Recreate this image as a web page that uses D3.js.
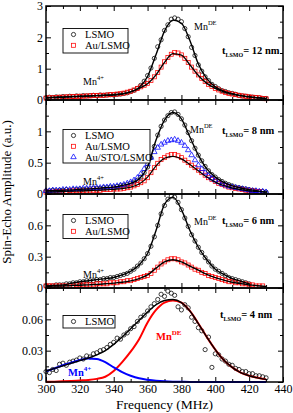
<!DOCTYPE html>
<html><head><meta charset="utf-8">
<script src="https://cdn.jsdelivr.net/npm/d3@7"></script>
<style>
body{margin:0;background:#fff;}
svg{display:block;font-family:"Liberation Serif","Times New Roman",serif;}
</style>
</head><body>
<svg id="c" width="293" height="413"></svg>
<script>
// ---------- DATA ----------
const freq = [300,302,304,306,308,310,312,314,316,318,320,
  322,324,326,328,330,332,334,336,338,340,342,
  344,346,348,350,352,354,356,358,360,362,364,
  366,368,370,372,374,376,378,380,382,384,386,
  388,390,392,394,396,398,400,402,404,406,408,
  410,412,414,416,418,420,422,424,426,428,430];
const fitFreq = [300,305,310,315,320,325,330,335,340,345,350,355,360,365,370,375,380,385,390,395,400,405,410,415,420,425,430];

const xTicks = [300,320,340,360,380,400,420,440];
const xMinorTicks = [310,330,350,370,390,410,430];

// panel 1 : t = 12 nm
const p1LSMO = [0.07,0.09,0.08,0.10,0.09,0.11,0.10,0.12,0.11,0.13,0.12,
  0.14,0.13,0.14,0.15,0.14,0.16,0.15,0.16,0.17,0.16,0.18,
  0.19,0.21,0.23,0.27,0.31,0.37,0.47,0.60,0.78,1.02,1.33,
  1.70,1.92,2.22,2.40,2.58,2.62,2.58,2.50,2.28,2.02,1.68,
  1.42,1.12,0.92,0.74,0.62,0.50,0.43,0.36,0.30,0.27,0.23,
  0.21,0.18,0.15,0.13,0.12,0.10,0.09,0.08,0.07,0.05,0.05];
const p1Au = [0.06,0.07,0.07,0.08,0.09,0.09,0.10,0.10,0.11,0.11,0.12,
  0.12,0.13,0.13,0.14,0.14,0.15,0.15,0.16,0.17,0.18,0.19,
  0.20,0.22,0.25,0.28,0.32,0.37,0.42,0.47,0.53,0.62,0.74,
  0.88,1.05,1.22,1.36,1.46,1.52,1.50,1.44,1.33,1.20,1.05,
  0.92,0.80,0.69,0.59,0.50,0.43,0.37,0.32,0.28,0.24,0.21,
  0.19,0.17,0.15,0.13,0.12,0.10,0.09,0.08,0.07,0.05,0.04];
const p1FitLSMO = [0.08,0.09,0.10,0.11,0.12,0.13,0.14,0.15,0.16,0.19,0.26,0.40,0.75,1.45,2.20,2.55,2.45,1.90,1.15,0.68,0.42,0.28,0.20,0.14,0.10,0.07,0.05];
const p1FitAu = [0.06,0.075,0.09,0.10,0.115,0.125,0.14,0.15,0.17,0.20,0.26,0.37,0.52,0.80,1.20,1.48,1.43,1.12,0.78,0.53,0.37,0.26,0.19,0.14,0.10,0.07,0.04];

// panel 2 : t = 8 nm
const p2LSMO = [0.05,0.05,0.06,0.05,0.06,0.06,0.07,0.06,0.07,0.07,0.08,
  0.07,0.08,0.08,0.09,0.09,0.09,0.10,0.10,0.11,0.11,0.12,
  0.13,0.14,0.15,0.17,0.19,0.22,0.27,0.34,0.43,0.58,0.76,
  0.94,1.08,1.18,1.25,1.30,1.31,1.27,1.20,1.10,0.98,0.85,
  0.73,0.62,0.53,0.44,0.37,0.31,0.27,0.23,0.20,0.17,0.15,
  0.13,0.11,0.10,0.09,0.08,0.07,0.06,0.05,0.04,0.04,0.03];
const p2Au = [0.03,0.03,0.03,0.04,0.04,0.04,0.04,0.05,0.05,0.05,0.05,
  0.05,0.05,0.06,0.06,0.06,0.06,0.07,0.07,0.07,0.08,0.08,
  0.08,0.09,0.10,0.11,0.13,0.15,0.18,0.21,0.26,0.34,0.42,
  0.49,0.55,0.58,0.61,0.63,0.63,0.61,0.58,0.54,0.50,0.46,
  0.42,0.38,0.34,0.30,0.26,0.23,0.20,0.17,0.15,0.13,0.11,
  0.10,0.09,0.08,0.07,0.06,0.05,0.05,0.04,0.04,null,null];
const p2STO = [0.05,0.05,0.06,0.06,0.06,0.07,0.07,0.07,0.08,0.08,0.08,
  0.09,0.09,0.09,0.10,0.10,0.10,0.11,0.11,0.12,0.12,0.13,
  0.14,0.15,0.17,0.19,0.22,0.26,0.32,0.40,0.48,0.58,0.67,
  0.74,0.79,0.82,0.85,0.86,0.87,0.85,0.82,0.77,0.70,0.62,
  0.54,0.46,0.40,0.34,0.29,0.25,0.22,0.19,0.16,0.14,0.12,
  0.11,0.10,0.09,0.08,0.07,0.06,0.05,0.05,0.04,0.04,0.03];
const p2FitLSMO = [0.05,0.055,0.06,0.065,0.075,0.08,0.09,0.10,0.11,0.135,0.17,0.24,0.43,0.86,1.18,1.30,1.20,0.91,0.62,0.40,0.27,0.185,0.13,0.095,0.07,0.05,0.03];
const p2FitAu = [0.03,0.035,0.04,0.045,0.05,0.055,0.06,0.065,0.075,0.085,0.11,0.16,0.27,0.45,0.57,0.60,0.56,0.47,0.37,0.27,0.19,0.135,0.095,0.07,0.05,0.04,0.03];

// panel 3 : t = 6 nm
const p3LSMO = [0.02,0.02,0.02,0.03,0.03,0.03,0.04,0.04,0.05,0.05,0.06,
  0.06,0.07,0.07,0.07,0.08,0.08,0.09,0.09,0.10,0.10,0.11,
  0.12,0.13,0.14,0.16,0.18,0.21,0.24,0.28,0.33,0.40,0.49,
  0.60,0.71,0.79,0.85,0.88,0.87,0.82,0.75,0.67,0.59,0.51,
  0.45,0.39,0.34,0.29,0.25,0.21,0.18,0.16,0.14,0.12,0.10,
  0.09,0.08,0.07,0.06,0.05,0.04,null,null,null,null,null];
const p3Au = [0.02,0.02,0.02,0.02,0.02,0.02,0.02,0.02,0.02,0.03,0.03,
  0.03,0.03,0.03,0.03,0.04,0.04,0.04,0.04,0.05,0.05,0.05,
  0.06,0.06,0.07,0.07,0.08,0.09,0.10,0.11,0.12,0.14,0.17,
  0.20,0.23,0.25,0.27,0.28,0.28,0.27,0.25,0.24,0.22,0.20,
  0.18,0.17,0.15,0.14,0.12,0.11,0.10,0.09,0.08,0.07,0.06,
  0.06,0.05,0.05,0.04,0.04,0.03,0.03,0.02,0.02,0.02,null];
const p3FitLSMO = [0.02,0.025,0.03,0.045,0.06,0.07,0.08,0.09,0.10,0.125,0.16,0.22,0.33,0.55,0.80,0.87,0.75,0.55,0.39,0.27,0.18,0.13,0.09,0.065,0.04,null,null];
const p3FitAu = [0.015,0.018,0.02,0.023,0.027,0.03,0.035,0.04,0.047,0.055,0.068,0.09,0.125,0.19,0.25,0.27,0.25,0.21,0.17,0.13,0.10,0.075,0.055,0.042,0.03,0.022,0.015];

// panel 4 : t = 4 nm
const p4LSMO = [0.010,0.009,0.012,0.011,0.017,0.018,0.016,0.019,0.020,0.021,0.023,
  0.022,0.025,0.024,0.027,0.028,0.030,0.031,0.033,0.036,0.038,0.042,
  0.041,0.045,0.047,0.051,0.053,0.058,0.062,0.064,0.068,0.072,0.075,
  0.079,0.084,0.082,0.087,0.085,0.083,0.072,0.069,0.074,0.071,0.062,
  0.058,0.052,0.049,0.031,0.043,0.014,0.027,0.026,0.022,0.020,0.017,
  0.016,0.013,0.012,0.010,0.010,0.008,0.008,0.006,0.006,0.005,0.004];
const p4FitTotal = [0.0105,0.013,0.0155,0.018,0.0205,0.023,0.026,0.030,0.036,0.043,0.051,0.059,0.067,0.074,0.078,0.079,0.076,0.068,0.056,0.043,0.031,0.021,0.014,0.009,0.006,0.004,0.0025];
const p4FitDE = [0.0002,0.0003,0.0006,0.001,0.0015,0.002,0.003,0.005,0.0105,0.019,0.029,0.041,0.057,0.069,0.076,0.078,0.076,0.068,0.056,0.043,0.031,0.021,0.014,0.009,0.006,0.004,0.0025];
const p4Fit4 = [0.0103,0.013,0.016,0.0185,0.021,0.0225,0.022,0.019,0.014,0.0095,0.006,0.0035,0.0022,0.0012,0.0006,0.0003,0.0002,0.0001,0.0001,0.0001,0.0001,0.0001,0.0001,0.0001,0.0001,0.0001,0.0001];

const yTicks1 = [0,1,2,3],          yMinor1 = [0.5,1.5,2.5],       yLabels1 = ["0","1","2","3"];
const yTicks2 = [0,0.5,1,1.5],      yMinor2 = [0.25,0.75,1.25],    yLabels2 = ["0","0.5","1",""];
const yTicks3 = [0,0.3,0.6,0.9],    yMinor3 = [0.15,0.45,0.75],    yLabels3 = ["0","0.3","0.6",""];
const yTicks4 = [0,0.03,0.06,0.09], yMinor4 = [0.015,0.045,0.075], yLabels4 = ["0","0.03","0.06",""];
const yMax = [3, 1.5, 0.9, 0.09];
const thickness = ["12", "8", "6", "4"];

// ---------- LAYOUT ----------
const svg = d3.select("#c");
const X0 = 46, X1 = 283;
const panelTops = [6, 100, 194, 288], panelH = 94;
const x = d3.scaleLinear().domain([300, 440]).range([X0, X1]);

const RED = "#ff0000", BLUE = "#0000ff";

function marker(g, kind, cx, cy, color) {
  if (kind === "circle") {
    g.append("circle").attr("cx", cx).attr("cy", cy).attr("r", 2.1)
      .attr("fill", "none").attr("stroke", color).attr("stroke-width", 0.75);
  } else if (kind === "square") {
    g.append("rect").attr("x", cx - 2).attr("y", cy - 2).attr("width", 4).attr("height", 4)
      .attr("fill", "none").attr("stroke", color).attr("stroke-width", 0.75);
  } else {
    g.append("path").attr("d", d3.symbol(d3.symbolTriangle, 13)())
      .attr("transform", `translate(${cx},${cy})`)
      .attr("fill", "none").attr("stroke", color).attr("stroke-width", 0.75);
  }
}

const panels = [
  { series: [{v: p1LSMO, k: "circle", c: "#000"}, {v: p1Au, k: "square", c: RED}],
    fits: [{v: p1FitAu, c: "#000", w: 1.4}, {v: p1FitLSMO, c: "#000", w: 1.4}],
    ticks: yTicks1, minor: yMinor1, labels: yLabels1,
    legend: [["circle", "#000", "LSMO"], ["square", RED, "Au/LSMO"]] },
  { series: [{v: p2LSMO, k: "circle", c: "#000"}, {v: p2Au, k: "square", c: RED}, {v: p2STO, k: "tri", c: BLUE}],
    fits: [{v: p2FitAu, c: "#000", w: 1.2}, {v: p2FitLSMO, c: "#000", w: 1.4}],
    ticks: yTicks2, minor: yMinor2, labels: yLabels2,
    legend: [["circle", "#000", "LSMO"], ["square", RED, "Au/LSMO"], ["tri", BLUE, "Au/STO/LSMO"]] },
  { series: [{v: p3LSMO, k: "circle", c: "#000"}, {v: p3Au, k: "square", c: RED}],
    fits: [{v: p3FitAu, c: "#000", w: 1.4}, {v: p3FitLSMO, c: "#000", w: 1.4}],
    ticks: yTicks3, minor: yMinor3, labels: yLabels3,
    legend: [["circle", "#000", "LSMO"], ["square", RED, "Au/LSMO"]] },
  { series: [{v: p4LSMO, k: "circle", c: "#000"}],
    fits: [{v: p4FitDE, c: RED, w: 2}, {v: p4Fit4, c: BLUE, w: 2}, {v: p4FitTotal, c: "#000", w: 1.4}],
    ticks: yTicks4, minor: yMinor4, labels: yLabels4,
    legend: [["circle", "#000", "LSMO"]] }
];

const legendBoxes = [
  {x: 63, y: 28.5, w: 65, h: 24.5},
  {x: 63, y: 129.5, w: 87, h: 33.5},
  {x: 63, y: 214.5, w: 65, h: 24},
  {x: 63, y: 315.5, w: 52, h: 12.5}
];

function styleAxis(sel, fs) {
  sel.select(".domain").remove();
  sel.selectAll("line").attr("stroke", "#000").attr("stroke-width", 1);
  sel.selectAll("text").attr("font-family", '"Liberation Serif", serif').attr("font-size", fs).attr("fill", "#000");
  sel.attr("font-family", null).attr("font-size", null);
}

panels.forEach((p, i) => {
  const top = panelTops[i], bot = top + panelH;
  const y = d3.scaleLinear().domain([0, yMax[i]]).range([bot, top]);
  const g = svg.append("g");
  const isBottom = i === panels.length - 1;

  // ticks
  g.append("g").attr("transform", `translate(0,${bot})`)
    .call(d3.axisBottom(x).tickValues(xTicks).tickSize(-5).tickPadding(2.5).tickFormat(isBottom ? d3.format("d") : ""))
    .call(s => styleAxis(s, 12));
  g.append("g").attr("transform", `translate(0,${bot})`)
    .call(d3.axisBottom(x).tickValues(xMinorTicks).tickSize(-3).tickFormat(""))
    .call(s => styleAxis(s, 12));
  g.append("g").attr("transform", `translate(0,${top})`)
    .call(d3.axisTop(x).tickValues(xTicks).tickSize(-5).tickFormat(""))
    .call(s => styleAxis(s, 12));
  g.append("g").attr("transform", `translate(0,${top})`)
    .call(d3.axisTop(x).tickValues(xMinorTicks).tickSize(-3).tickFormat(""))
    .call(s => styleAxis(s, 12));
  const yl = g.append("g").attr("transform", `translate(${X0},0)`)
    .call(d3.axisLeft(y).tickValues(p.ticks).tickSize(-5).tickPadding(3).tickFormat((d, j) => p.labels[j]))
    .call(s => styleAxis(s, 12));
  if (isBottom) yl.selectAll("text").filter(d => d === 0).attr("dy", "-0.15em");
  g.append("g").attr("transform", `translate(${X0},0)`)
    .call(d3.axisLeft(y).tickValues(p.minor).tickSize(-3).tickFormat(""))
    .call(s => styleAxis(s, 12));
  g.append("g").attr("transform", `translate(${X1},0)`)
    .call(d3.axisRight(y).tickValues(p.ticks).tickSize(-5).tickFormat(""))
    .call(s => styleAxis(s, 12));
  g.append("g").attr("transform", `translate(${X1},0)`)
    .call(d3.axisRight(y).tickValues(p.minor).tickSize(-3).tickFormat(""))
    .call(s => styleAxis(s, 12));

  // markers
  p.series.forEach(s => {
    const mg = g.append("g");
    freq.forEach((f, j) => {
      if (s.v[j] == null) return;
      marker(mg, s.k, x(f), y(s.v[j]), s.c);
    });
  });

  // fits
  p.fits.forEach(fi => {
    const pts = fitFreq.map((f, j) => [f, fi.v[j]]).filter(d => d[1] != null);
    g.append("path").datum(pts)
      .attr("d", d3.line().x(d => x(d[0])).y(d => y(d[1])).curve(d3.curveMonotoneX))
      .attr("fill", "none").attr("stroke", fi.c).attr("stroke-width", fi.w);
  });

  // frame
  g.append("rect").attr("x", X0).attr("y", top).attr("width", X1 - X0).attr("height", panelH)
    .attr("fill", "none").attr("stroke", "#000").attr("stroke-width", 1.5);

  // legend
  const lb = legendBoxes[i];
  const lg = g.append("g");
  lg.append("rect").attr("x", lb.x).attr("y", lb.y).attr("width", lb.w).attr("height", lb.h)
    .attr("fill", "#fff").attr("stroke", "#000").attr("stroke-width", 0.9);
  p.legend.forEach((e, j) => {
    const cy = lb.y + 6 + j * 10.8;
    marker(lg, e[0], lb.x + 10.5, cy, e[1]);
    lg.append("text").attr("x", lb.x + 22).attr("y", cy + 3.5).attr("font-size", 10.5).text(e[2]);
  });

  // thickness label
  const tx = i === 3 ? 220 : 222;
  const tyList = [54, 134, 224, 318];
  const t = g.append("text").attr("x", tx).attr("y", tyList[i]).attr("font-weight", "bold").attr("font-size", 10.5);
  t.append("tspan").text("t");
  t.append("tspan").attr("font-size", 6).attr("dy", 3).text("LSMO");
  t.append("tspan").attr("dy", -3).text("= " + thickness[i] + " nm");
});

// Mn labels
function mnLabel(xp, yp, sup, opts) {
  const t = svg.append("text").attr("x", xp).attr("y", yp)
    .attr("font-size", opts.fs).attr("fill", opts.c || "#000").attr("font-weight", opts.bold ? "bold" : null);
  t.append("tspan").text("Mn");
  t.append("tspan").attr("font-size", opts.sfs).attr("dy", -5).text(sup);
}
mnLabel(83, 85, "4+", {fs: 10, sfs: 6.5});
mnLabel(194, 30, "DE", {fs: 10, sfs: 6.5});
mnLabel(83, 185, "4+", {fs: 10, sfs: 6.5});
mnLabel(190, 133, "DE", {fs: 10, sfs: 6.5});
mnLabel(83, 278, "4+", {fs: 10, sfs: 6.5});
mnLabel(194, 225, "DE", {fs: 10, sfs: 6.5});
mnLabel(68, 376, "4+", {fs: 10.5, sfs: 7, c: BLUE, bold: true});
mnLabel(156, 340, "DE", {fs: 10.5, sfs: 7, c: RED, bold: true});

// axis titles
svg.append("text").attr("x", (X0 + X1) / 2).attr("y", 408.5).attr("text-anchor", "middle")
  .attr("font-size", 13.5).text("Frequency (MHz)");
svg.append("text").attr("transform", "translate(11,192) rotate(-90)").attr("text-anchor", "middle")
  .attr("font-size", 13).text("Spin-Echo Amplitude (a.u.)");
</script>
</body></html>
